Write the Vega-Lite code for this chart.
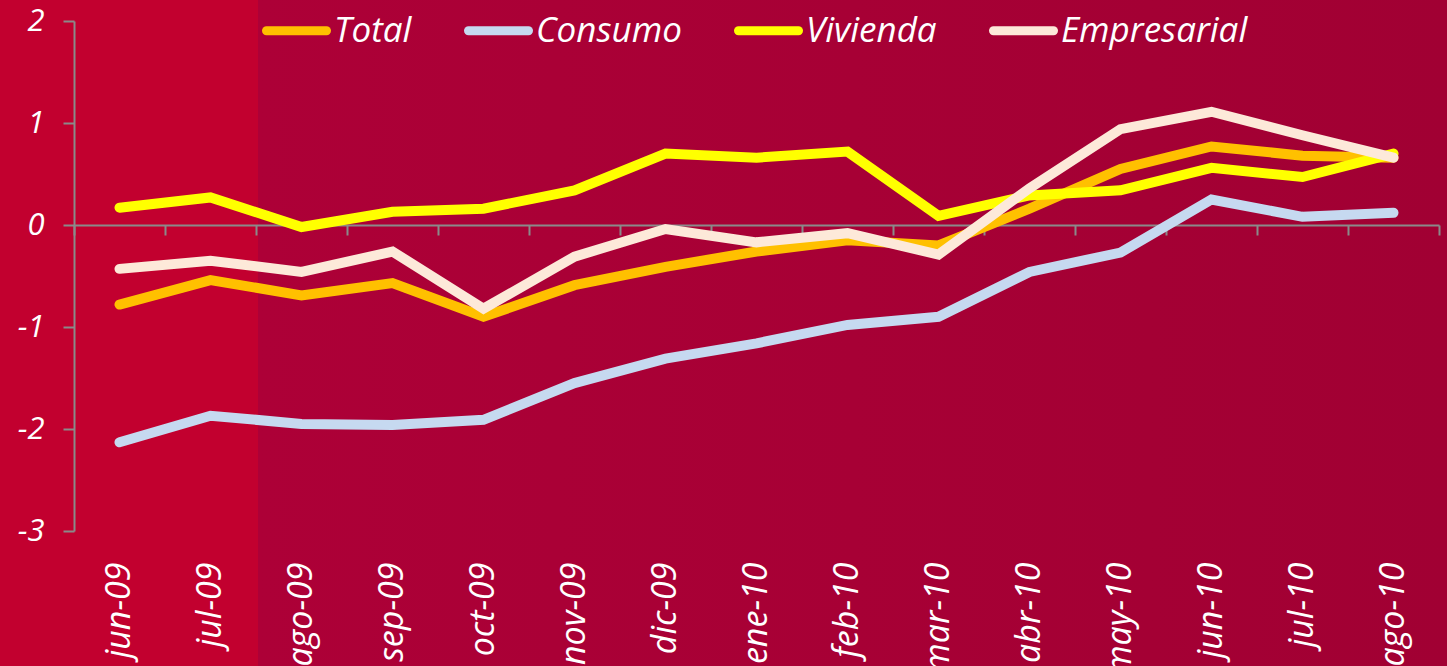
{
  "$schema": "https://vega.github.io/schema/vega-lite/v6.json",
  "width": 1447,
  "height": 666,
  "autosize": {"type": "none"},
  "padding": 0,
  "background": "#a80036",
  "config": {
    "view": {
      "stroke": null,
      "fill": {
        "gradient": "linear",
        "x1": 0, "x2": 1, "y1": 0, "y2": 0,
        "stops": [
          {"offset": 0, "color": "#c2002f"},
          {"offset": 0.178, "color": "#c2002f"},
          {"offset": 0.1785, "color": "#ad0037"},
          {"offset": 1, "color": "#a10033"}
        ]
      }
    },
    "font": "Open Sans"
  },
  "data": {
    "values": [
      {"m": "jun-09", "s": "Total", "v": -0.78},
      {"m": "jul-09", "s": "Total", "v": -0.54},
      {"m": "ago-09", "s": "Total", "v": -0.69},
      {"m": "sep-09", "s": "Total", "v": -0.57},
      {"m": "oct-09", "s": "Total", "v": -0.90},
      {"m": "nov-09", "s": "Total", "v": -0.59},
      {"m": "dic-09", "s": "Total", "v": -0.41},
      {"m": "ene-10", "s": "Total", "v": -0.26},
      {"m": "feb-10", "s": "Total", "v": -0.15},
      {"m": "mar-10", "s": "Total", "v": -0.20},
      {"m": "abr-10", "s": "Total", "v": 0.16},
      {"m": "may-10", "s": "Total", "v": 0.55},
      {"m": "jun-10", "s": "Total", "v": 0.77},
      {"m": "jul-10", "s": "Total", "v": 0.68},
      {"m": "ago-10", "s": "Total", "v": 0.66},
      {"m": "jun-09", "s": "Consumo", "v": -2.13},
      {"m": "jul-09", "s": "Consumo", "v": -1.87},
      {"m": "ago-09", "s": "Consumo", "v": -1.95},
      {"m": "sep-09", "s": "Consumo", "v": -1.96},
      {"m": "oct-09", "s": "Consumo", "v": -1.91},
      {"m": "nov-09", "s": "Consumo", "v": -1.55},
      {"m": "dic-09", "s": "Consumo", "v": -1.31},
      {"m": "ene-10", "s": "Consumo", "v": -1.16},
      {"m": "feb-10", "s": "Consumo", "v": -0.98},
      {"m": "mar-10", "s": "Consumo", "v": -0.90},
      {"m": "abr-10", "s": "Consumo", "v": -0.46},
      {"m": "may-10", "s": "Consumo", "v": -0.27},
      {"m": "jun-10", "s": "Consumo", "v": 0.25},
      {"m": "jul-10", "s": "Consumo", "v": 0.08},
      {"m": "ago-10", "s": "Consumo", "v": 0.12},
      {"m": "jun-09", "s": "Vivienda", "v": 0.17},
      {"m": "jul-09", "s": "Vivienda", "v": 0.27},
      {"m": "ago-09", "s": "Vivienda", "v": -0.02},
      {"m": "sep-09", "s": "Vivienda", "v": 0.13},
      {"m": "oct-09", "s": "Vivienda", "v": 0.16},
      {"m": "nov-09", "s": "Vivienda", "v": 0.34},
      {"m": "dic-09", "s": "Vivienda", "v": 0.70},
      {"m": "ene-10", "s": "Vivienda", "v": 0.66},
      {"m": "feb-10", "s": "Vivienda", "v": 0.72},
      {"m": "mar-10", "s": "Vivienda", "v": 0.09},
      {"m": "abr-10", "s": "Vivienda", "v": 0.29},
      {"m": "may-10", "s": "Vivienda", "v": 0.34},
      {"m": "jun-10", "s": "Vivienda", "v": 0.56},
      {"m": "jul-10", "s": "Vivienda", "v": 0.47},
      {"m": "ago-10", "s": "Vivienda", "v": 0.70},
      {"m": "jun-09", "s": "Empresarial", "v": -0.43},
      {"m": "jul-09", "s": "Empresarial", "v": -0.35},
      {"m": "ago-09", "s": "Empresarial", "v": -0.46},
      {"m": "sep-09", "s": "Empresarial", "v": -0.26},
      {"m": "oct-09", "s": "Empresarial", "v": -0.82},
      {"m": "nov-09", "s": "Empresarial", "v": -0.31},
      {"m": "dic-09", "s": "Empresarial", "v": -0.04},
      {"m": "ene-10", "s": "Empresarial", "v": -0.17},
      {"m": "feb-10", "s": "Empresarial", "v": -0.08},
      {"m": "mar-10", "s": "Empresarial", "v": -0.29},
      {"m": "abr-10", "s": "Empresarial", "v": 0.36},
      {"m": "may-10", "s": "Empresarial", "v": 0.94},
      {"m": "jun-10", "s": "Empresarial", "v": 1.11},
      {"m": "jul-10", "s": "Empresarial", "v": 0.88},
      {"m": "ago-10", "s": "Empresarial", "v": 0.66}
    ]
  },
  "layer": [
    {
      "mark": {"type": "line", "strokeOpacity": 0},
      "encoding": {
        "x": {
          "field": "m", "type": "ordinal", "sort": null,
          "scale": {"type": "band", "range": [74, 1439], "paddingInner": 0, "paddingOuter": 0},
          "axis": {
            "orient": "bottom", "offset": -441, "labels": false, "title": null, "grid": false,
            "domain": true, "domainColor": "#8a8a8a", "domainWidth": 2,
            "ticks": true, "tickColor": "#8a8a8a", "tickWidth": 2, "tickSize": 10, "tickBand": "extent"
          }
        },
        "y": {
          "field": "v", "type": "quantitative",
          "scale": {"domain": [-3, 2], "range": [531, 21], "nice": false, "zero": false}
        },
        "detail": {"field": "s"}
      }
    },
    {
      "mark": {"type": "line", "strokeWidth": 10, "strokeCap": "round", "strokeJoin": "miter"},
      "encoding": {
        "x": {
          "field": "m", "type": "ordinal", "sort": null,
          "axis": {
            "orient": "bottom", "offset": -135, "title": null, "grid": false,
            "domain": false, "ticks": false, "tickSize": 0,
            "labelAngle": -90, "labelPadding": 31, "labelFont": "Open Sans", "labelFontStyle": "italic",
            "labelFontSize": 34, "labelColor": "white", "labelOverlap": false, "labelLimit": 200
          }
        },
        "y": {
          "field": "v", "type": "quantitative",
          "axis": {
            "orient": "left", "offset": -74, "title": null, "grid": false,
            "values": [-3, -2, -1, 0, 1, 2], "labelExpr": "'' + datum.value",
            "domainColor": "#8a8a8a", "domainWidth": 2,
            "tickColor": "#8a8a8a", "tickWidth": 2, "tickSize": 11,
            "labelPadding": 19, "labelFont": "Open Sans", "labelFontStyle": "italic",
            "labelFontSize": 31, "labelColor": "white", "labelFlush": false
          }
        },
        "color": {
          "field": "s", "type": "nominal",
          "scale": {
            "domain": ["Total", "Consumo", "Vivienda", "Empresarial"],
            "range": ["#ffc000", "#c6d9f0", "#ffff00", "#fde9d9"]
          },
          "legend": {
            "orient": "none", "legendX": 262, "legendY": -4, "direction": "horizontal",
            "title": null, "symbolType": "stroke", "symbolSize": 3600, "symbolStrokeWidth": 9,
            "labelFont": "Open Sans", "labelFontStyle": "italic", "labelFontSize": 35,
            "labelColor": "white", "labelOffset": 3, "columnPadding": 38, "labelLimit": 400,
            "encode": {"symbols": {"update": {"strokeCap": {"value": "round"}}}}
          }
        }
      }
    }
  ],
  "resolve": {"axis": {"x": "independent"}}
}
